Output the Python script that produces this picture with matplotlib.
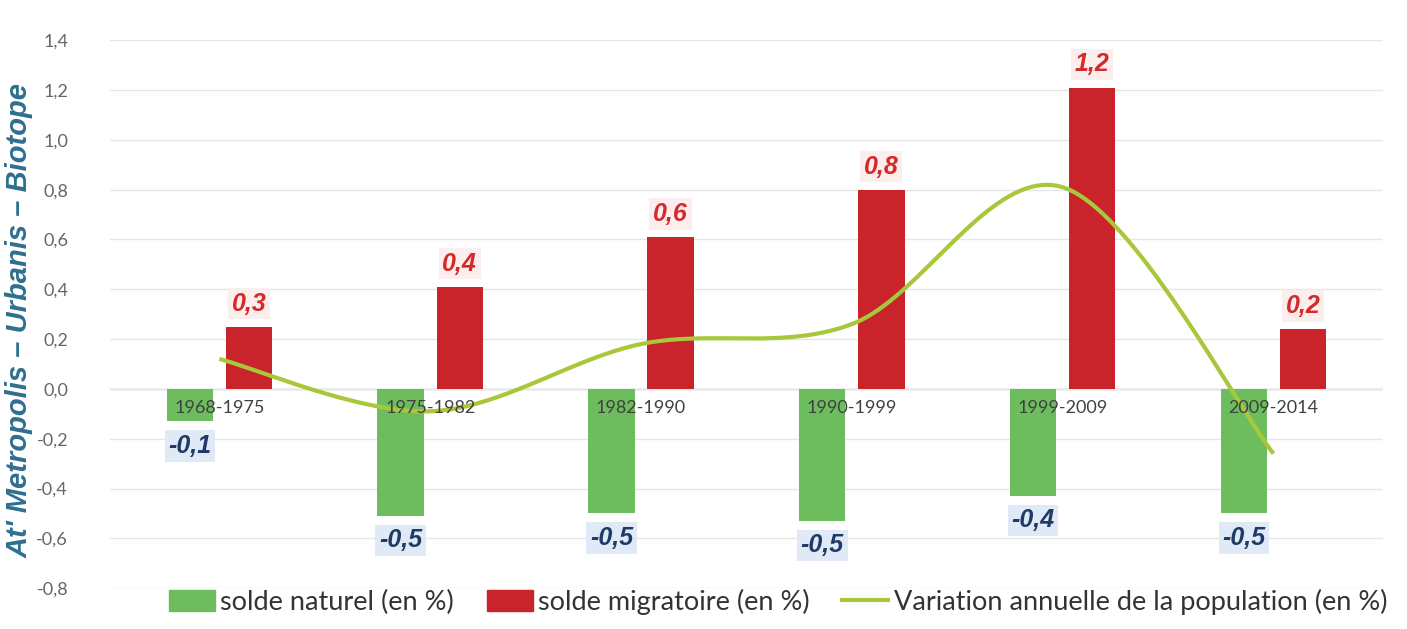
import numpy as np
import matplotlib
matplotlib.use("Agg")
import matplotlib.pyplot as plt
from matplotlib.ticker import FuncFormatter
from matplotlib.patches import Patch
from matplotlib.lines import Line2D

# Data
periods = ["1968-1975", "1975-1982", "1982-1990", "1990-1999", "1999-2009", "2009-2014"]
solde_naturel = [-0.13, -0.51, -0.50, -0.53, -0.43, -0.50]
solde_migratoire = [0.25, 0.41, 0.61, 0.80, 1.21, 0.24]
variation = [0.12, -0.09, 0.18, 0.26, 0.81, -0.26]
naturel_labels = ["-0,1", "-0,5", "-0,5", "-0,5", "-0,4", "-0,5"]
migratoire_labels = ["0,3", "0,4", "0,6", "0,8", "1,2", "0,2"]

green = "#6dbd5e"
red = "#c9232b"
lime = "#a9c73a"
navy = "#1f3a66"
red_txt = "#d42a2a"

plt.rcParams['font.family'] = ['Lato', 'DejaVu Sans']

fig = plt.figure(figsize=(14.07, 6.29), dpi=100)
ax = fig.add_axes([0.078, 0.065, 0.905, 0.871])

x = np.arange(len(periods))
w = 0.22
off = 0.14

ax.bar(x - off, solde_naturel, width=w, color=green, zorder=2)
ax.bar(x + off, solde_migratoire, width=w, color=red, zorder=2)


# Excel-like smoothed line (Catmull-Rom as cubic Bezier)
def smooth(xs, ys, n=40):
    pts = np.column_stack([xs, ys]).astype(float)
    ext = np.vstack([pts[0], pts, pts[-1]])
    out = []
    for i in range(len(pts) - 1):
        p0, p1, p2, p3 = ext[i], ext[i + 1], ext[i + 2], ext[i + 3]
        c1 = p1 + (p2 - p0) / 6
        c2 = p2 - (p3 - p1) / 6
        t = np.linspace(0, 1, n)[:, None]
        seg = ((1 - t) ** 3) * p1 + 3 * ((1 - t) ** 2) * t * c1 + 3 * (1 - t) * t ** 2 * c2 + t ** 3 * p2
        out.append(seg)
    out = np.vstack(out)
    return out[:, 0], out[:, 1]


sx, sy = smooth(x, variation)
ax.plot(sx, sy, color=lime, lw=3, zorder=3, solid_capstyle='butt')

# value labels
lab_font = ['Liberation Sans', 'DejaVu Sans']
for i in range(len(periods)):
    ax.annotate(migratoire_labels[i], (x[i] + off, solde_migratoire[i]), xytext=(0, 8),
                textcoords='offset points', ha='center', va='bottom', fontsize=18,
                fontweight='bold', fontstyle='italic', color=red_txt, family=lab_font,
                bbox=dict(boxstyle='square,pad=0.15', fc='#fdeeee', ec='none'), zorder=4)
    ax.annotate(naturel_labels[i], (x[i] - off, solde_naturel[i]), xytext=(0, -9),
                textcoords='offset points', ha='center', va='top', fontsize=18,
                fontweight='bold', fontstyle='italic', color=navy, family=lab_font,
                bbox=dict(boxstyle='square,pad=0.15', fc='#dfeaf6', ec='none'), zorder=4)
    ax.text(x[i], -0.045, periods[i], ha='center', va='top', fontsize=13,
            color='#404040', zorder=5)

ax.set_xlim(-0.52, len(periods) - 0.48)
ax.set_ylim(-0.8, 1.4)
ax.set_yticks(np.arange(-0.8, 1.41, 0.2))
ax.yaxis.set_major_formatter(FuncFormatter(lambda v, p: f"{v:.1f}".replace(".", ",").replace("-0,0", "0,0")))
ax.set_xticks([])
ax.tick_params(axis='y', length=0, labelsize=13, labelcolor='#666666', pad=30)
ax.grid(axis='y', color='#e6e6e6', lw=1, zorder=0)
ax.axhline(0, color='#bfbfbf', lw=1, zorder=1)
for s in ax.spines.values():
    s.set_visible(False)

# watermark on the left
fig.text(0.014, 0.49, "At' Metropolis – Urbanis – Biotope", rotation=90, ha='center', va='center',
         fontsize=21, fontweight='bold', fontstyle='italic', color='#2f6f8f', family=lab_font)

handles = [Patch(color=green), Patch(color=red), Line2D([0], [0], color=lime, lw=3)]
names = ["solde naturel (en %)", "solde migratoire (en %)", "Variation annuelle de la population (en %)"]
fig.legend(handles, names, loc='center', bbox_to_anchor=(0.553, 0.043), ncol=3, frameon=False,
           fontsize=19.5, handlelength=1.7, handleheight=0.8, handletextpad=0.2, columnspacing=1.2,
           labelcolor='#333333')

fig.savefig("out.png", dpi=100)
